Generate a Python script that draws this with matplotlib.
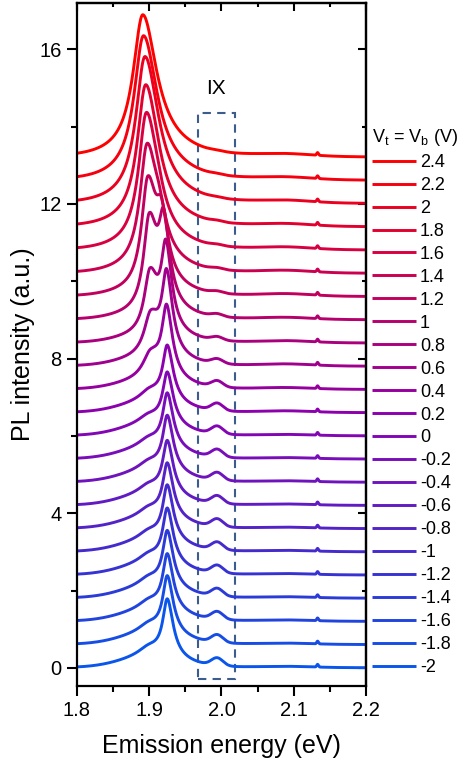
import matplotlib
matplotlib.use("Agg")
import matplotlib.pyplot as plt
import numpy as np
from matplotlib.colors import LinearSegmentedColormap
from matplotlib.patches import Rectangle
from matplotlib.ticker import MultipleLocator

plt.rcParams['font.family'] = ['Liberation Sans', 'DejaVu Sans']
plt.rcParams['mathtext.fontset'] = 'custom'
plt.rcParams['mathtext.rm'] = 'Liberation Sans'
plt.rcParams['mathtext.it'] = 'Liberation Sans:italic'

# gate voltage (V), bottom curve first
voltages = [-2, -1.8, -1.6, -1.4, -1.2, -1, -0.8, -0.6, -0.4, -0.2, 0,
            0.2, 0.4, 0.6, 0.8, 1, 1.2, 1.4, 1.6, 1.8, 2, 2.2, 2.4]
offsets = [0.0, 0.6, 1.2, 1.8, 2.4, 3.0, 3.6, 4.2, 4.8, 5.4, 6.0,
           6.6, 7.2, 7.8, 8.4, 9.0, 9.6, 10.2, 10.8, 11.4, 12.0, 12.6, 13.2]

# neutral exciton peak (eV, a.u., HWHM eV)
x_pos = [1.925, 1.925, 1.925, 1.925, 1.925, 1.925, 1.925, 1.925, 1.925, 1.925, 1.925,
         1.925, 1.924, 1.924, 1.923, 1.920, 1.917, 1.914, 1.912, 1.910, 1.910, 1.910, 1.910]
x_amp = [1.45, 1.45, 1.42, 1.42, 1.40, 1.40, 1.37, 1.35, 1.40, 1.38, 1.32,
         1.40, 1.75, 2.00, 2.10, 2.00, 1.35, 0.55, 0.25, 0.12, 0.06, 0.03, 0.0]
x_hw = [0.0075, 0.0075, 0.0075, 0.0075, 0.0075, 0.0075, 0.0075, 0.0075, 0.0075, 0.0075, 0.0075,
        0.0075, 0.0075, 0.0075, 0.0075, 0.0078, 0.0085, 0.009, 0.010, 0.010, 0.010, 0.010, 0.010]

# trion peak (eV, a.u., HWHM eV)
t_pos = [1.900, 1.900, 1.900, 1.900, 1.900, 1.900, 1.900, 1.900, 1.900, 1.900, 1.900,
         1.901, 1.902, 1.902, 1.901, 1.900, 1.898, 1.897, 1.896, 1.895, 1.894, 1.892, 1.891]
t_amp = [0.25, 0.25, 0.25, 0.25, 0.25, 0.25, 0.25, 0.25, 0.25, 0.25, 0.25,
         0.30, 0.65, 1.05, 1.55, 2.35, 2.75, 3.10, 3.35, 3.50, 3.65, 3.60, 3.55]
t_hw = [0.018, 0.018, 0.018, 0.018, 0.018, 0.018, 0.018, 0.018, 0.018, 0.018, 0.018,
        0.017, 0.013, 0.011, 0.0095, 0.0095, 0.0105, 0.012, 0.013, 0.014, 0.015, 0.0155, 0.016]

# interlayer exciton (IX) bump and broad background
ix_amp = [0.20, 0.20, 0.20, 0.20, 0.20, 0.20, 0.20, 0.20, 0.20, 0.20, 0.20,
          0.19, 0.16, 0.12, 0.09, 0.07, 0.05, 0.04, 0.03, 0.03, 0.02, 0.02, 0.02]
bg_amp = [0.25, 0.25, 0.25, 0.25, 0.25, 0.25, 0.25, 0.25, 0.25, 0.25, 0.25,
          0.24, 0.22, 0.20, 0.18, 0.16, 0.15, 0.15, 0.15, 0.15, 0.15, 0.15, 0.15]
hump_amp = [0.03, 0.03, 0.03, 0.03, 0.03, 0.03, 0.03, 0.03, 0.03, 0.03, 0.03,
            0.04, 0.04, 0.05, 0.05, 0.05, 0.06, 0.06, 0.06, 0.06, 0.06, 0.06, 0.06]
ix_pos = 1.994
hump_pos = 2.09
spike_pos = 2.133
spike_amp = 0.07

energy = np.arange(1.8, 2.2001, 0.0005)


def lorentz(e, c, hw_l, hw_r):
    hw = np.where(e < c, hw_l, hw_r)
    return 1.0 / (1.0 + ((e - c) / hw) ** 2)


def gauss(e, c, s):
    return np.exp(-0.5 * ((e - c) / s) ** 2)


cmap = LinearSegmentedColormap.from_list('vb', [
    (0.0, '#0A55EB'), (0.18, '#3732D2'), (0.36, '#6E14BE'), (0.5, '#8C00AF'),
    (0.68, '#B4006E'), (0.82, '#D80040'), (1.0, '#FF0000')])

fig = plt.figure(figsize=(4.62, 7.62), dpi=100)
ax = fig.add_axes([77 / 462, 76 / 762, 289 / 462, 683 / 762])

n = len(voltages)
lines = []
for i in range(n):
    y = (x_amp[i] * lorentz(energy, x_pos[i], x_hw[i], x_hw[i] * 1.3)
         + t_amp[i] * lorentz(energy, t_pos[i], t_hw[i], t_hw[i] * 1.45)
         + bg_amp[i] * gauss(energy, 1.90, 0.04)
         + ix_amp[i] * gauss(energy, ix_pos, 0.008)
         + hump_amp[i] * gauss(energy, hump_pos, 0.035)
         + spike_amp * gauss(energy, spike_pos, 0.0012))
    ln, = ax.plot(energy, y + offsets[i], color=cmap(i / (n - 1)), lw=2.1,
                  label=f'{voltages[i]:g}', solid_capstyle='butt')
    lines.append(ln)

ax.add_patch(Rectangle((1.968, -0.3), 0.051, 14.65, fill=False,
                       edgecolor='#3B5C8C', lw=1.5, ls=(0, (4, 3))))
ax.text(1.992, 15.0, 'IX', fontsize=15, ha='center', va='center')

ax.set_xlim(1.8, 2.2)
ax.set_ylim(-0.47, 17.2)
ax.xaxis.set_major_locator(MultipleLocator(0.1))
ax.xaxis.set_minor_locator(MultipleLocator(0.05))
ax.yaxis.set_major_locator(MultipleLocator(4))
ax.yaxis.set_minor_locator(MultipleLocator(2))
ax.set_xticks([1.8, 1.9, 2.0, 2.1, 2.2])
ax.set_xticklabels(['1.8', '1.9', '2.0', '2.1', '2.2'])
ax.tick_params(which='major', direction='out', length=7, width=1.5,
               labelsize=14.5, pad=4)
ax.tick_params(which='minor', direction='out', length=4, width=1.5)
for s in ax.spines.values():
    s.set_linewidth(1.6)

top = ax.secondary_xaxis('top')
top.xaxis.set_major_locator(MultipleLocator(0.1))
top.xaxis.set_minor_locator(MultipleLocator(0.05))
top.tick_params(which='major', direction='in', length=6, width=1.5, labeltop=False)
top.tick_params(which='minor', direction='in', length=3, width=1.5)
right = ax.secondary_yaxis('right')
right.yaxis.set_major_locator(MultipleLocator(4))
right.yaxis.set_minor_locator(MultipleLocator(2))
right.tick_params(which='major', direction='in', length=6, width=1.5, labelright=False)
right.tick_params(which='minor', direction='in', length=3, width=1.5)
top.spines['top'].set_linewidth(1.6)
right.spines['right'].set_linewidth(1.6)

ax.set_xlabel('Emission energy (eV)', fontsize=18, labelpad=10)
ax.set_ylabel('PL intensity (a.u.)', fontsize=18, labelpad=3)

leg = ax.legend(handles=lines[::-1], loc='upper left',
                bbox_to_anchor=(372 / 462, (762 - 127) / 762),
                bbox_transform=fig.transFigure, frameon=False, fontsize=13,
                title='V$_\\mathregular{t}$ = V$_\\mathregular{b}$ (V)',
                title_fontsize=13, alignment='left', borderpad=0,
                borderaxespad=0, handlelength=2.45, handletextpad=0.2,
                labelspacing=0.33)

fig.savefig('out.png', dpi=100)
